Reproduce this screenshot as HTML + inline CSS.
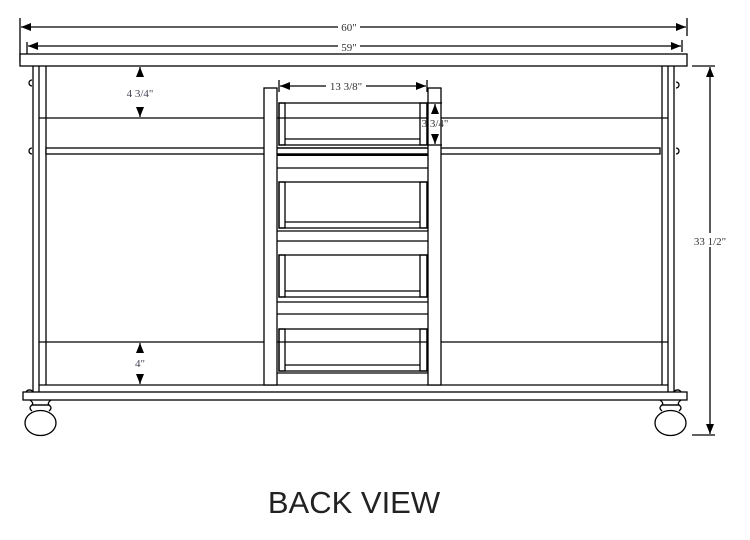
<!DOCTYPE html>
<html><head><style>body{margin:0;background:#fff}svg{display:block}</style></head><body>
<svg width="750" height="540" viewBox="0 0 750 540" xmlns="http://www.w3.org/2000/svg" font-family="Liberation Serif, serif">
<defs>
<marker id="a" markerWidth="10" markerHeight="8" refX="10" refY="4" orient="auto-start-reverse" markerUnits="userSpaceOnUse"><path d="M0,0L10,4L0,8z" fill="#000"/></marker>
</defs>
<g stroke="#000" stroke-width="1.3" fill="none">
<line x1="20" y1="18" x2="20" y2="62"/><line x1="687" y1="18" x2="687" y2="36"/>
<line x1="21" y1="27" x2="686" y2="27" marker-start="url(#a)" marker-end="url(#a)"/>
<line x1="27" y1="42" x2="27" y2="62"/><line x1="682" y1="40" x2="682" y2="52"/>
<line x1="28" y1="46" x2="681" y2="46" marker-start="url(#a)" marker-end="url(#a)"/>
<rect x="20" y="54" width="667" height="12" fill="#fff"/>
<line x1="33" y1="66" x2="33" y2="392"/><line x1="39" y1="66" x2="39" y2="392"/><line x1="46" y1="66" x2="46" y2="385"/>
<line x1="662" y1="66" x2="662" y2="385"/><line x1="668" y1="66" x2="668" y2="392"/><line x1="674" y1="66" x2="674" y2="392"/>
<line x1="39" y1="118" x2="668" y2="118"/>
<rect x="46" y="148" width="614" height="6" fill="#fff"/>
<line x1="39" y1="342" x2="668" y2="342"/>
<line x1="39" y1="385" x2="668" y2="385"/>
<rect x="23" y="392" width="664" height="8" fill="#fff"/>
<path d="M32,80 a3,3 0 0 0 0,6"/><path d="M32,148 a3,3 0 0 0 0,6"/>
<path d="M676,82 a3,3 0 0 1 0,6"/><path d="M676,148 a3,3 0 0 1 0,6"/>
<path d="M33,392 a4,4 0 0 0 -7,0"/><path d="M674,392 a4,4 0 0 1 7,0"/>
<!-- feet -->
<path d="M30,400 q4,3 2,5 h17 q-2,-2 2,-5"/><line x1="32" y1="405" x2="49" y2="405"/>
<path d="M32,405 q-4,3 0,6 M49,405 q4,3 0,6"/>
<ellipse cx="40.5" cy="423" rx="15.5" ry="12.5" fill="#fff"/>
<path d="M660,400 q4,3 2,5 h17 q-2,-2 2,-5"/><line x1="662" y1="405" x2="679" y2="405"/>
<path d="M662,405 q-4,3 0,6 M679,405 q4,3 0,6"/>
<ellipse cx="670.5" cy="423" rx="15.5" ry="12.5" fill="#fff"/>
<rect x="264" y="88" width="13" height="297" fill="#fff"/>
<rect x="428" y="88" width="13" height="297" fill="#fff"/>
<line x1="277" y1="148" x2="428" y2="148"/><line x1="277" y1="154" x2="428" y2="154"/>
<line x1="277" y1="155" x2="428" y2="155" stroke-width="2"/>
<line x1="277" y1="168" x2="428" y2="168"/>
<line x1="277" y1="231" x2="428" y2="231"/><line x1="277" y1="241" x2="428" y2="241"/>
<line x1="277" y1="302" x2="428" y2="302"/><line x1="277" y1="314" x2="428" y2="314"/>
<line x1="277" y1="373" x2="428" y2="373"/>
<g>
<rect x="279" y="103" width="148" height="42"/><rect x="279" y="103" width="6" height="42"/><rect x="420" y="103" width="7" height="42"/><line x1="285" y1="139" x2="420" y2="139"/>
<rect x="279" y="182" width="148" height="46"/><rect x="279" y="182" width="6" height="46"/><rect x="420" y="182" width="7" height="46"/><line x1="285" y1="222" x2="420" y2="222"/>
<rect x="279" y="255" width="148" height="42"/><rect x="279" y="255" width="6" height="42"/><rect x="420" y="255" width="7" height="42"/><line x1="285" y1="291" x2="420" y2="291"/>
<rect x="279" y="329" width="148" height="42"/><rect x="279" y="329" width="6" height="42"/><rect x="420" y="329" width="7" height="42"/><line x1="285" y1="365" x2="420" y2="365"/>
</g>
<line x1="279" y1="80" x2="279" y2="92"/><line x1="427" y1="80" x2="427" y2="92"/>
<line x1="280" y1="86" x2="426" y2="86" marker-start="url(#a)" marker-end="url(#a)"/>
<line x1="428" y1="103" x2="442" y2="103"/><line x1="428" y1="145" x2="442" y2="145"/>
<line x1="435" y1="114" x2="435" y2="104" marker-end="url(#a)"/>
<line x1="435" y1="135" x2="435" y2="144" marker-end="url(#a)"/>
<line x1="140" y1="77" x2="140" y2="67" marker-end="url(#a)"/>
<line x1="140" y1="107" x2="140" y2="117" marker-end="url(#a)"/>
<line x1="140" y1="353" x2="140" y2="343" marker-end="url(#a)"/>
<line x1="140" y1="374" x2="140" y2="384" marker-end="url(#a)"/>
<line x1="692" y1="66" x2="715" y2="66"/><line x1="692" y1="435" x2="715" y2="435"/>
<line x1="710" y1="67" x2="710" y2="434" marker-start="url(#a)" marker-end="url(#a)"/>
</g>
<g font-size="11" fill="#333" text-anchor="middle">
<rect x="338" y="21" width="22" height="10" fill="#fff"/><text x="349" y="31">60"</text>
<rect x="338" y="40" width="22" height="10" fill="#fff"/><text x="349" y="51">59"</text>
<text x="140" y="97" fill="#445">4 3/4"</text>
<text x="140" y="367" fill="#445">4"</text>
<rect x="326" y="80" width="40" height="11" fill="#fff"/><text x="346" y="90">13 3/8"</text>
<text x="435" y="127">3 3/4"</text>
<rect x="690" y="233" width="40" height="14" fill="#fff"/><text x="710" y="245">33 1/2"</text>
</g>
<text x="354" y="513" font-family="Liberation Sans, sans-serif" font-size="31" text-anchor="middle" fill="#222">BACK VIEW</text>
</svg>
</body></html>
